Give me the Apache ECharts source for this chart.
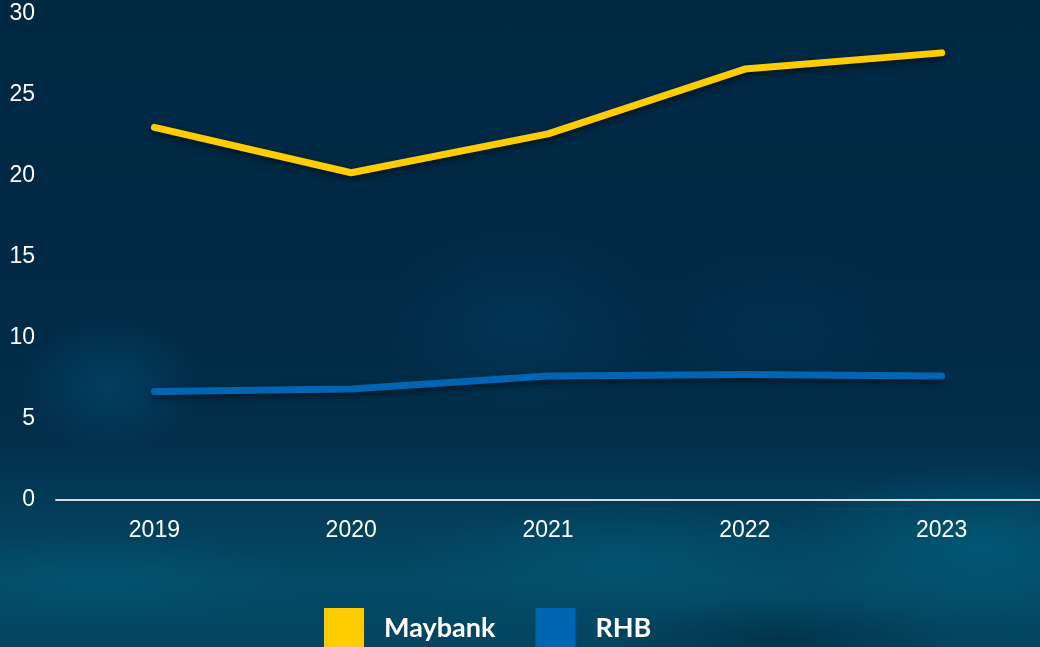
<!DOCTYPE html>
<html>
<head>
<meta charset="utf-8">
<script src="https://cdn.jsdelivr.net/npm/echarts@6/dist/echarts.min.js"></script>
<style>
html,body{margin:0;padding:0;width:1040px;height:647px;overflow:hidden;}
#bg{position:absolute;left:0;top:0;width:1040px;height:647px;
background:
radial-gradient(ellipse 90px 70px at 110px 385px, rgba(0,80,120,0.5), rgba(0,80,120,0) 100%),
radial-gradient(ellipse 140px 90px at 520px 320px, rgba(0,70,110,0.35), rgba(0,70,110,0) 100%),
radial-gradient(ellipse 120px 70px at 780px 320px, rgba(0,60,100,0.3), rgba(0,60,100,0) 100%),
radial-gradient(ellipse 200px 50px at 100px 580px, rgba(0,90,120,0.55), rgba(0,90,120,0) 100%),
radial-gradient(ellipse 220px 60px at 620px 560px, rgba(0,95,125,0.5), rgba(0,95,125,0) 100%),
radial-gradient(ellipse 200px 80px at 980px 545px, rgba(0,100,130,0.6), rgba(0,100,130,0) 100%),
radial-gradient(ellipse 180px 40px at 780px 640px, rgba(0,30,50,0.45), rgba(0,30,50,0) 100%),
linear-gradient(to bottom, #012843 0%, #012a46 45%, #022f4b 68%, #033e5a 80%, #044a66 90%, #034560 100%);}
#chart{position:absolute;left:0;top:0;width:1040px;height:647px;}
</style>
</head>
<body>
<div id="bg"></div>
<div id="chart"></div>
<script>
const categories = ['2019', '2020', '2021', '2022', '2023'];
const maybank = [23.0, 20.2, 22.6, 26.6, 27.6];
const rhb = [6.7, 6.85, 7.65, 7.75, 7.65];
const yTicks = { min: 0, max: 30, interval: 5 };

const chart = echarts.init(document.getElementById('chart'), null, { renderer: 'canvas' });
const lineStyle = (c) => ({ width: 7, color: c, cap: 'round', join: 'round', shadowColor: 'rgba(0,0,0,0.55)', shadowBlur: 7, shadowOffsetY: 3 });
chart.setOption({
  backgroundColor: 'transparent',
  animation: false,
  grid: { left: 56, right: -8, top: 14, bottom: 147, containLabel: false },
  legend: {
    top: 608, left: 324, padding: 0,
    itemWidth: 40, itemHeight: 40, itemGap: 40,
    icon: 'rect',
    textStyle: { color: '#ffffff', fontSize: 27, fontWeight: 'bold', fontFamily: 'Lato', padding: [0, 0, 0, 15] },
    data: ['Maybank', 'RHB']
  },
  xAxis: {
    type: 'category', data: categories, boundaryGap: true,
    axisLine: { lineStyle: { color: '#d9d9d9', width: 2 } },
    axisTick: { show: false },
    axisLabel: { color: '#ffffff', fontSize: 23, fontFamily: 'Liberation Sans', margin: 19 }
  },
  yAxis: {
    type: 'value', min: yTicks.min, max: yTicks.max, interval: yTicks.interval,
    splitLine: { show: false },
    axisLine: { show: false }, axisTick: { show: false },
    axisLabel: { color: '#ffffff', fontSize: 23, fontFamily: 'Liberation Sans', margin: 21 }
  },
  series: [
    { name: 'Maybank', type: 'line', data: maybank, symbol: 'none', color: '#FFCC00', lineStyle: lineStyle('#FFCC00') },
    { name: 'RHB', type: 'line', data: rhb, symbol: 'none', color: '#0066B3', lineStyle: lineStyle('#0066B3') }
  ]
});
</script>
</body>
</html>
